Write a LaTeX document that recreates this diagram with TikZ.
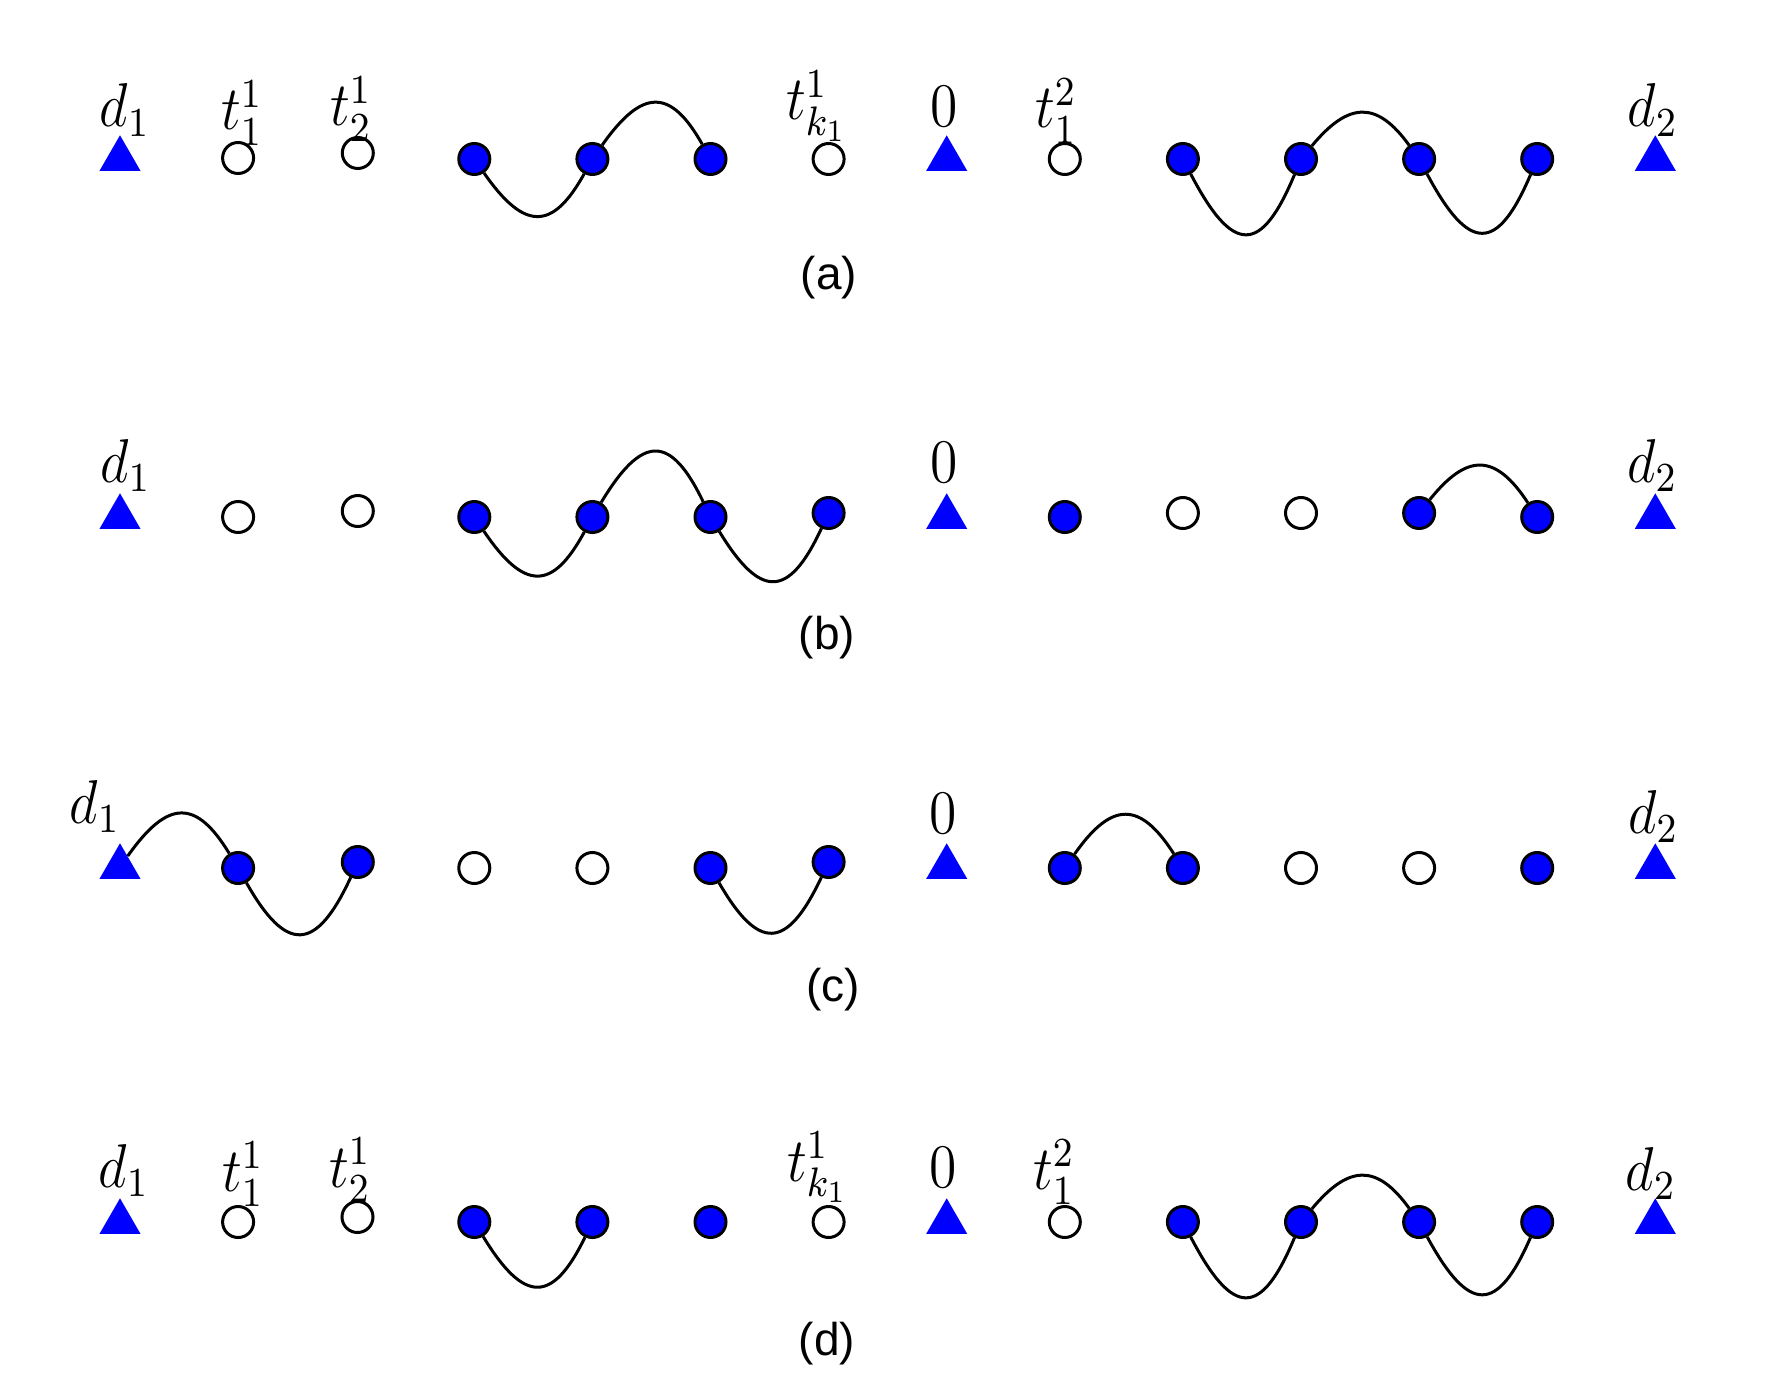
\RequirePackage{fix-cm}
\documentclass[tikz,border=0pt]{standalone}
\usepackage{fontspec}
\newfontfamily\labfont{Liberation Sans}
\usetikzlibrary{shapes.geometric}
\newcommand{\mylab}[1]{\scalebox{2.32}[2.58]{$#1$}}
\begin{document}
\begin{tikzpicture}[x=0.5pt,y=-0.5pt,
  tri/.style={regular polygon, regular polygon sides=3, fill=blue, draw=none, inner sep=0pt, minimum size=23.7pt},
  opn/.style={circle, draw=black, fill=white, line width=1.5pt, inner sep=0pt, minimum size=15.5pt},
  fil/.style={opn, fill=blue},
  lbl/.style={anchor=base, inner sep=0pt, font=\fontsize{12}{14}\selectfont},
  capt/.style={anchor=base, inner sep=0pt, font=\labfont\fontsize{23}{28}\selectfont},
  link/.style={line width=1.5pt, black}]
\useasboundingbox (0,0) rectangle (1777,1396);

% ---------------- row (a)
\node[tri] (a0) at (120,159) {};
\node[opn] (a1) at (238.1,158) {};
\node[opn] (a2) at (357.8,153) {};
\node[fil] (a3) at (474.3,159) {};
\node[fil] (a4) at (592.4,159) {};
\node[fil] (a5) at (710.5,159) {};
\node[opn] (a6) at (828.6,159) {};
\node[tri] (a7) at (946.7,159) {};
\node[opn] (a8) at (1064.8,159) {};
\node[fil] (a9) at (1182.9,159) {};
\node[fil] (a10) at (1301,159) {};
\node[fil] (a11) at (1419.1,159) {};
\node[fil] (a12) at (1537.2,159) {};
\node[tri] (a13) at (1655.3,159) {};
\node[lbl] (la0) at (125,127) {\mylab{d_1}};
\node[lbl] (la1) at (242,130) {\mylab{t_1^1}};
\node[lbl] (la2) at (351,126) {\mylab{t_2^1}};
\node[lbl] (la6) at (817,120) {\mylab{t_{k_1}^1}};
\node[lbl] (la7) at (944.5,127) {\mylab{0}};
\node[lbl] (la8) at (1056,128) {\mylab{t_1^2}};
\node[lbl] (la13) at (1653,127) {\mylab{d_2}};
\draw[link] (a3) .. controls +(50,72) and +(-40,72) .. (a4);
\draw[link] (a4) .. controls +(50,-71) and +(-40,-71) .. (a5);
\draw[link] (a9) .. controls +(50,96) and +(-40,96) .. (a10);
\draw[link] (a10) .. controls +(48,-58) and +(-42,-58) .. (a11);
\draw[link] (a11) .. controls +(50,94) and +(-40,94) .. (a12);
\node[capt] (ca) at (829,290) {(a)};

% ---------------- row (b)
\node[tri] (b0) at (120,517) {};
\node[opn] (b1) at (238.1,517) {};
\node[opn] (b2) at (357.8,511) {};
\node[fil] (b3) at (474.3,517) {};
\node[fil] (b4) at (592.4,517) {};
\node[fil] (b5) at (710.5,517) {};
\node[fil] (b6) at (828.6,513) {};
\node[tri] (b7) at (946.7,517) {};
\node[fil] (b8) at (1064.8,517) {};
\node[opn] (b9) at (1182.9,513) {};
\node[opn] (b10) at (1301,513) {};
\node[fil] (b11) at (1419.1,513) {};
\node[fil] (b12) at (1537.2,517) {};
\node[tri] (b13) at (1655.3,517) {};
\node[lbl] (lb0) at (125.7,482) {\mylab{d_1}};
\node[lbl] (lb7) at (944.5,482) {\mylab{0}};
\node[lbl] (lb13) at (1652.5,482) {\mylab{d_2}};
\draw[link] (b3) .. controls +(50,74) and +(-40,74) .. (b4);
\draw[link] (b4) .. controls +(50,-83) and +(-40,-83) .. (b5);
\draw[link] (b5) .. controls +(50,82) and +(-40,86) .. (b6);
\draw[link] (b11) .. controls +(48,-60) and +(-42,-64) .. (b12);
\node[capt] (cb) at (827,649) {(b)};

% ---------------- row (c)
\node[tri] (c0) at (120,867) {};
\node[fil] (c1) at (238.1,868) {};
\node[fil] (c2) at (357.8,862) {};
\node[opn] (c3) at (474.3,868) {};
\node[opn] (c4) at (592.4,868) {};
\node[fil] (c5) at (710.5,868) {};
\node[fil] (c6) at (828.6,862) {};
\node[tri] (c7) at (946.7,867) {};
\node[fil] (c8) at (1064.8,868) {};
\node[fil] (c9) at (1182.9,868) {};
\node[opn] (c10) at (1301,868) {};
\node[opn] (c11) at (1419.1,868) {};
\node[fil] (c12) at (1537.2,868) {};
\node[tri] (c13) at (1655.3,867) {};
\node[lbl] (lc0) at (95,823) {\mylab{d_1}};
\node[lbl] (lc7) at (943,833) {\mylab{0}};
\node[lbl] (lc13) at (1653.5,833) {\mylab{d_2}};
\draw[link] (c0) .. controls +(48,-68) and +(-42,-69) .. (c1);
\draw[link] (c1) .. controls +(48,85) and +(-42,91) .. (c2);
\draw[link] (c5) .. controls +(48,83) and +(-42,89) .. (c6);
\draw[link] (c8) .. controls +(47,-67) and +(-43,-67) .. (c9);
\node[capt] (cc) at (833,1001) {(c)};

% ---------------- row (d)
\node[tri] (d0) at (120,1222) {};
\node[opn] (d1) at (238.1,1222) {};
\node[opn] (d2) at (357.5,1217) {};
\node[fil] (d3) at (474.3,1222) {};
\node[fil] (d4) at (592.4,1222) {};
\node[fil] (d5) at (710.5,1222) {};
\node[opn] (d6) at (828.6,1222) {};
\node[tri] (d7) at (946.7,1222) {};
\node[opn] (d8) at (1064.8,1222) {};
\node[fil] (d9) at (1182.9,1222) {};
\node[fil] (d10) at (1301,1222) {};
\node[fil] (d11) at (1419.1,1222) {};
\node[fil] (d12) at (1537.2,1222) {};
\node[tri] (d13) at (1655.3,1222) {};
\node[lbl] (ld0) at (124,1187) {\mylab{d_1}};
\node[lbl] (ld1) at (243,1191) {\mylab{t_1^1}};
\node[lbl] (ld2) at (350,1187) {\mylab{t_2^1}};
\node[lbl] (ld6) at (818,1181) {\mylab{t_{k_1}^1}};
\node[lbl] (ld7) at (943,1187) {\mylab{0}};
\node[lbl] (ld8) at (1054,1189) {\mylab{t_1^2}};
\node[lbl] (ld13) at (1651,1190) {\mylab{d_2}};
\draw[link] (d3) .. controls +(50,82) and +(-40,82) .. (d4);
\draw[link] (d9) .. controls +(50,96) and +(-40,96) .. (d10);
\draw[link] (d10) .. controls +(48,-58) and +(-42,-58) .. (d11);
\draw[link] (d11) .. controls +(50,92) and +(-40,92) .. (d12);
\node[capt] (cd) at (827,1355) {(d)};
\end{tikzpicture}
\end{document}
